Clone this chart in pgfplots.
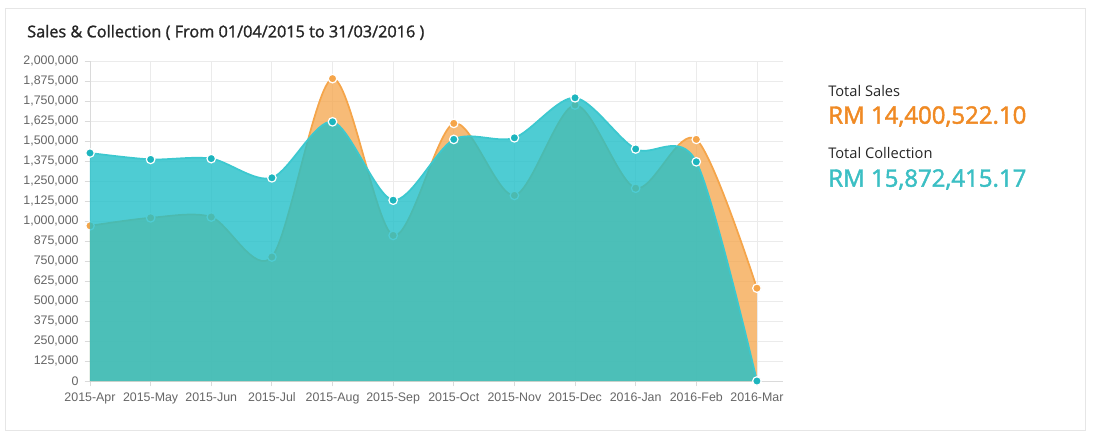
\documentclass[border=0pt]{standalone}
\usepackage{pgfplots}
\pgfplotsset{compat=1.18}
\usepackage{fontspec}
\setmainfont{Open Sans}
\newfontfamily\arialf{Liberation Sans}
\newfontfamily\osb{Open Sans}[FakeBold=1.4]
\newfontfamily\osbb{Open Sans}[FakeBold=1.8]
\definecolor{tealfill}{HTML}{22C0C9}
\definecolor{tealline}{HTML}{3CC8CF}
\definecolor{tealmark}{HTML}{1DB5BE}
\definecolor{orng}{HTML}{F5A54A}
\definecolor{orngtxt}{HTML}{F08A24}
\definecolor{tealtxt}{HTML}{3BBFC4}
\definecolor{gridc}{HTML}{EBEBEB}
\definecolor{tickc}{HTML}{666666}
\begin{document}
\begin{tikzpicture}
\path[fill=white] (0,0) rectangle (831pt,-329.25pt);
\draw[color=gridc!80!gray!60, line width=0.75pt] (3.75pt,-6pt) rectangle (813.75pt,-322.5pt);
\node[anchor=base west, inner sep=0, text=black!85] at (20.25pt,-28pt) {\osb\fontsize{12.2pt}{14pt}\selectfont Sales \& Collection ( From 01/04/2015 to 31/03/2016 )};
\node[anchor=base west, inner sep=0, text=black!85] at (621pt,-72pt) {\fontsize{11pt}{13pt}\selectfont Total Sales};
\node[anchor=base west, inner sep=0, text=orngtxt] at (621pt,-92.75pt) {\osbb\fontsize{18pt}{21pt}\selectfont RM 14,400,522.10};
\node[anchor=base west, inner sep=0, text=black!85] at (621pt,-119pt) {\fontsize{11pt}{13pt}\selectfont Total Collection};
\node[anchor=base west, inner sep=0, text=tealtxt] at (621pt,-140pt) {\osbb\fontsize{18pt}{21pt}\selectfont RM 15,872,415.17};
\begin{axis}[
  at={(67.5pt,-285.75pt)}, anchor=south west,
  scale only axis, width=519.75pt, height=240pt,
  xmin=0, xmax=11.43, ymin=0, ymax=2000000,
  xtick={0,...,11},
  xticklabels={2015-Apr,2015-May,2015-Jun,2015-Jul,2015-Aug,2015-Sep,2015-Oct,2015-Nov,2015-Dec,2016-Jan,2016-Feb,2016-Mar},
  ytick={0,125000,...,2000000},
  scaled y ticks=false,
  yticklabel style={xshift=-1pt, /pgf/number format/.cd, fixed, precision=0, 1000 sep={,}, assume math mode=true},
  tick label style={font=\arialf\fontsize{9.3pt}{11pt}\selectfont, text=tickc},
  xtick pos=bottom, ytick pos=left,
  tick align=outside, major tick length=4pt,
  tick style={color=gridc!70!gray!70, line width=0.6pt},
  grid=major, grid style={color=gridc, line width=0.6pt},
  axis line style={color=gridc!70!gray!70, line width=0.6pt},
  axis x line*=bottom, axis y line*=left,
  clip mode=individual,
  xticklabel style={yshift=-1pt},
]
% Sales
\addplot[draw=none, fill=orng, fill opacity=0.75, smooth, tension=0.5] coordinates {
(0,970000) (1,1020000) (2,1025000) (3,775000) (4,1890000) (5,910000) (6,1610000) (7,1160000) (8,1725000) (9,1205000) (10,1510000) (11,580000)} \closedcycle;
\addplot[color=orng, line width=1.3pt, smooth, tension=0.5, mark=*, mark size=3.2pt, mark options={fill=orng, draw=white, line width=0.9pt}] coordinates {
(0,970000) (1,1020000) (2,1025000) (3,775000) (4,1890000) (5,910000) (6,1610000) (7,1160000) (8,1725000) (9,1205000) (10,1510000) (11,580000)};
% Collection
\addplot[draw=none, fill=tealfill, fill opacity=0.8, smooth, tension=0.5] coordinates {
(0,1425000) (1,1385000) (2,1390000) (3,1270000) (4,1620000) (5,1130000) (6,1510000) (7,1520000) (8,1770000) (9,1450000) (10,1370000) (11,0)} \closedcycle;
\addplot[color=tealline, line width=1.3pt, smooth, tension=0.5, mark=*, mark size=3.2pt, mark options={fill=tealmark, draw=white, line width=0.9pt}] coordinates {
(0,1425000) (1,1385000) (2,1390000) (3,1270000) (4,1620000) (5,1130000) (6,1510000) (7,1520000) (8,1770000) (9,1450000) (10,1370000) (11,0)};
\end{axis}
\end{tikzpicture}
\end{document}
